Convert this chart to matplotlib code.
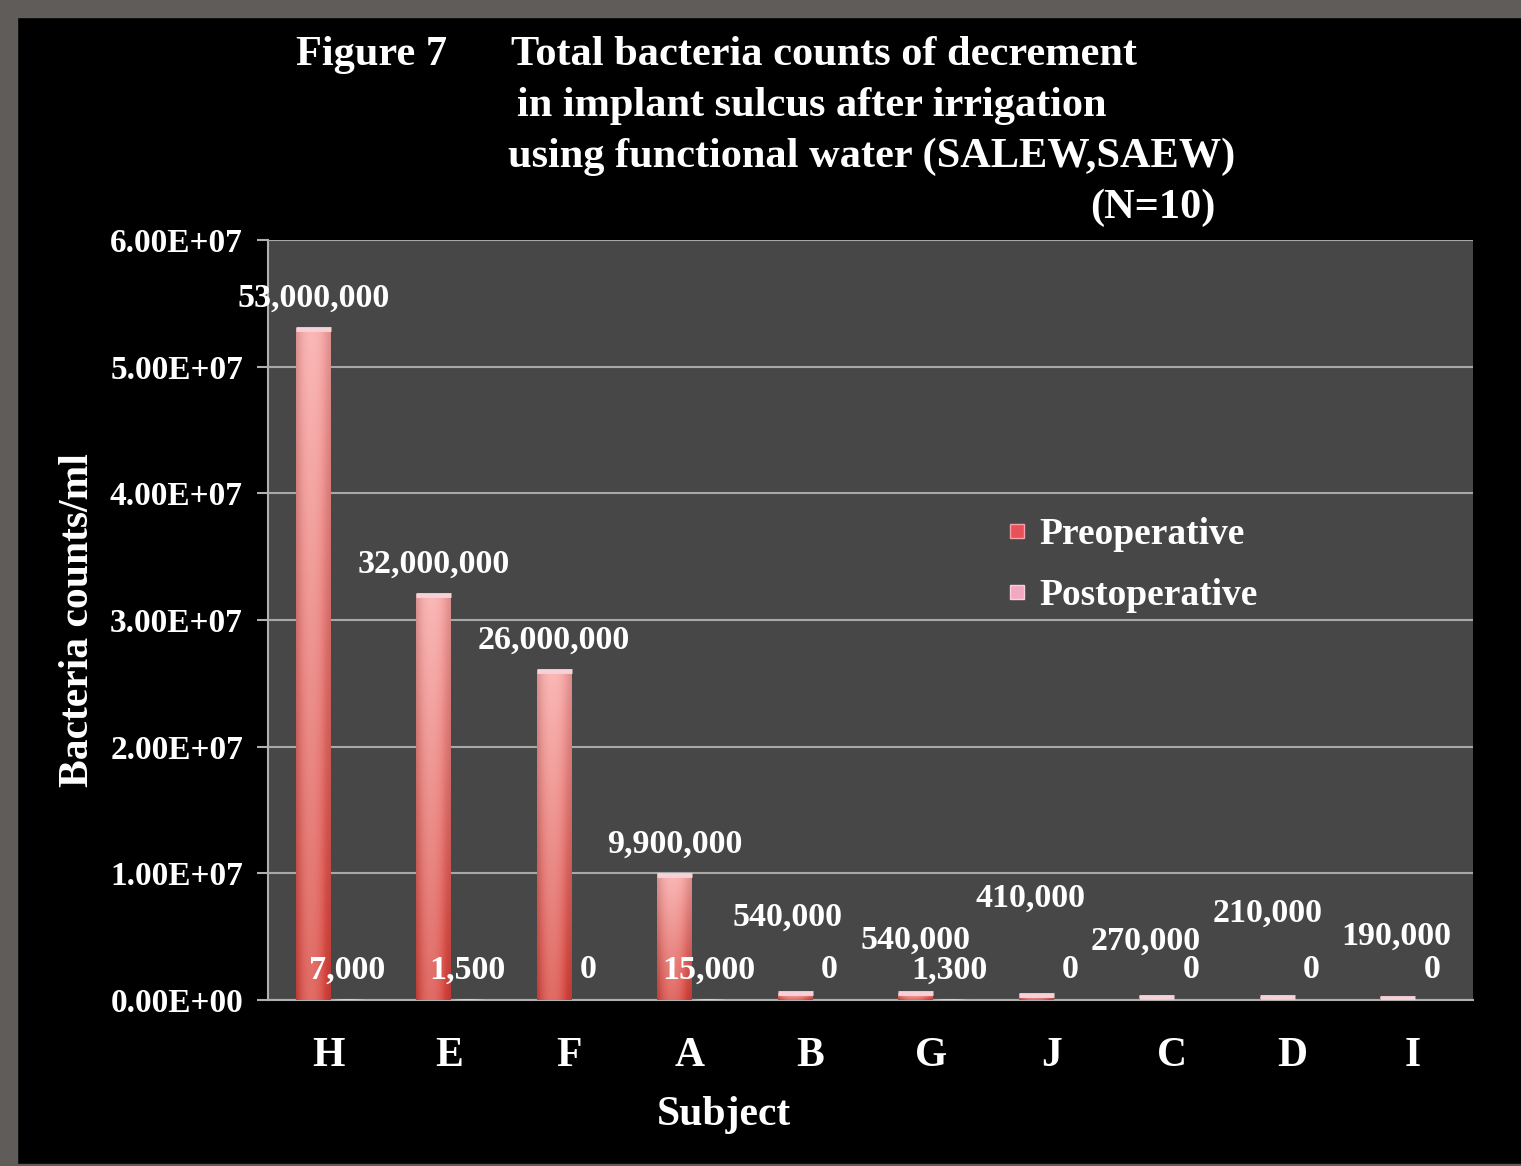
import matplotlib
matplotlib.use("Agg")
import matplotlib.pyplot as plt
import numpy as np
from matplotlib.patches import Rectangle
from matplotlib.lines import Line2D
from matplotlib.colors import to_rgb

subjects = ["H", "E", "F", "A", "B", "G", "J", "C", "D", "I"]
preop = [53000000, 32000000, 26000000, 9900000, 540000, 540000, 410000, 270000, 210000, 190000]
postop = [7000, 1500, 0, 15000, 0, 1300, 0, 0, 0, 0]

# label nudges in pixels (x, y above bar top) for the preoperative values
pre_dx = [0, 0, 0, 0, -8, 0, -6, -11, -10, -1]
pre_dy = [30, 30, 30, 30, 76, 53, 97, 55, 84, 61]

W, H = 1521, 1166
plt.rcParams["font.family"] = ["Liberation Serif", "DejaVu Serif"]
plt.rcParams["font.weight"] = "bold"


def fx(px):
    return px / W


def fy(py):
    return 1 - py / H


fig = plt.figure(figsize=(W / 100, H / 100), dpi=100, facecolor="black")
# grey frame along the top, left and bottom edges
fig.patches.append(Rectangle((0, fy(17)), 1, 17 / H, transform=fig.transFigure,
                             color="#5f5c5a", zorder=0))
fig.patches.append(Rectangle((0, 0), fx(17), 1, transform=fig.transFigure,
                             color="#5f5c5a", zorder=0))
fig.patches.append(Rectangle((0, 0), 1, 2 / H, transform=fig.transFigure,
                             color="#5f5c5a", zorder=0))

ax = fig.add_axes([fx(268), fy(1000), fx(1473) - fx(268), fy(240) - fy(1000)])
ax.set_facecolor("#474747")

x = np.arange(len(subjects))
bw = 0.29
pre_left = x - 0.27
post_left = x + 0.03


def gradient_bar(x0, w, h, c_bot, c_top):
    if h <= 0:
        return
    ny, nx = 80, 20
    t = np.linspace(0, 1, ny)[:, None, None]
    s = np.linspace(-1, 1, nx)[None, :, None]
    base = np.array(to_rgb(c_bot)) * (1 - t) + np.array(to_rgb(c_top)) * t
    shine = 0.22 * np.clip(1 - ((s + 0.15) / 0.9) ** 2, 0, 1)
    img = base + (1 - base) * shine
    img = np.clip(img * (1 - 0.12 * np.abs(s) ** 3), 0, 1)
    ax.imshow(img, extent=[x0, x0 + w, 0, h], origin="lower", aspect="auto",
              interpolation="bilinear", zorder=3)


for i in range(len(subjects)):
    gradient_bar(pre_left[i], bw, preop[i], "#d8423a", "#f8a4a2")
    if preop[i] > 0:
        ax.plot([pre_left[i], pre_left[i] + bw], [preop[i], preop[i]], lw=3.5,
                color="#f6d2d8", solid_capstyle="butt", zorder=4)
    gradient_bar(post_left[i], bw, postop[i], "#e890a8", "#f8c8d8")

# value labels
for i in range(len(subjects)):
    ax.annotate(f"{preop[i]:,}", (pre_left[i] + bw / 2, preop[i]),
                xytext=(pre_dx[i], pre_dy[i]), textcoords="offset pixels",
                ha="center", va="center", color="white", fontsize=24.5,
                fontweight="bold", zorder=6)
    ax.annotate(f"{postop[i]:,}", (post_left[i] + bw / 2, postop[i]),
                xytext=(-2, 30), textcoords="offset pixels",
                ha="center", va="center", color="white", fontsize=24.5,
                fontweight="bold", zorder=6)

ax.set_xlim(-0.5, len(subjects) - 0.5)
ax.set_ylim(0, 6e7)
ax.set_yticks(np.arange(0, 6.01e7, 1e7))
ax.set_yticklabels([f"{v:.2E}" for v in np.arange(0, 6.01e7, 1e7)])
ax.set_xticks(x)
ax.set_xticklabels(subjects)
ax.grid(axis="y", color="#a8a8a8", lw=1.5, zorder=1)
ax.set_axisbelow(True)
ax.tick_params(axis="y", colors="#b0b0b0", length=8, width=1.5, pad=10,
               labelcolor="white", labelsize=24)
ax.tick_params(axis="x", length=0, pad=27, labelcolor="white", labelsize=30)
for side in ["top", "right"]:
    ax.spines[side].set_visible(False)
for side in ["left", "bottom"]:
    ax.spines[side].set_color("#b0b0b0")
    ax.spines[side].set_linewidth(1.5)

# legend
handles = [Line2D([], [], marker="s", ls="none", markersize=10,
                  markerfacecolor="#e8505a", markeredgecolor="#f7a0a8"),
           Line2D([], [], marker="s", ls="none", markersize=10,
                  markerfacecolor="#f2a8c0", markeredgecolor="#f8d0dc")]
leg = ax.legend(handles, ["Preoperative", "Postoperative"], loc="center left",
                bbox_to_anchor=(fx(989), fy(565)), bbox_transform=fig.transFigure,
                frameon=False, fontsize=27, handlelength=0.5, handletextpad=0.35,
                labelspacing=0.68, borderpad=0)
for t in leg.get_texts():
    t.set_color("white")

# titles and axis labels
tkw = dict(color="white", fontsize=30.5, fontweight="bold", va="center", ha="left")
fig.text(fx(296), fy(55), "Figure 7", **tkw)
fig.text(fx(511), fy(55), "Total bacteria counts of decrement", **tkw)
fig.text(fx(517), fy(106), "in implant sulcus after irrigation", **tkw)
fig.text(fx(508), fy(157), "using functional water (SALEW,SAEW)", **tkw)
fig.text(fx(1090), fy(208), "(N=10)", **tkw)
fig.text(fx(724), fy(1115), "Subject", color="white", fontsize=30,
         fontweight="bold", ha="center", va="center")
fig.text(fx(78), fy(620), "Bacteria counts/ml", color="white", fontsize=30,
         fontweight="bold", ha="center", va="center", rotation=90)

fig.savefig("out.png", dpi=100, facecolor=fig.get_facecolor())
